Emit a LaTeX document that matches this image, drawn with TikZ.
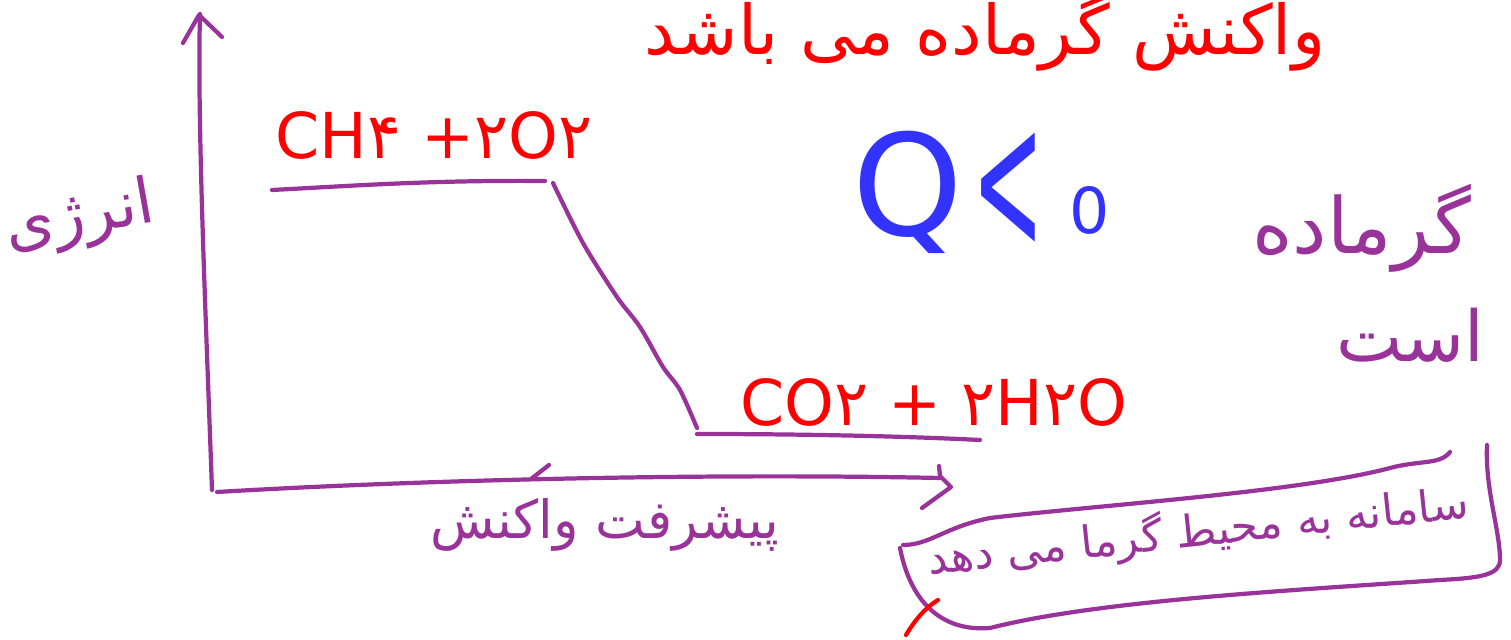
\documentclass[tikz,border=0pt]{standalone}
\usepackage{fontspec}
\newfontfamily\fa[Script=Arabic]{DejaVu Sans}
\newfontfamily\dv{DejaVu Sans}
\TeXXeTstate=1
\definecolor{pen}{RGB}{153,51,153}
\definecolor{redpen}{RGB}{255,0,0}
\definecolor{bluepen}{RGB}{51,51,255}
\tikzset{
  stroke/.style={draw=pen,line width=1.2pt,line cap=round,line join=round},
  redstroke/.style={draw=redpen,line width=1.2pt,line cap=round},
  fatext/.style={text=pen,inner sep=0pt},
  chem/.style={text=redpen,inner sep=0pt,font=\dv\fontsize{18}{22}\selectfont},
  qtext/.style={text=bluepen,inner sep=0pt},
}
\begin{document}
\begin{tikzpicture}[x=0.01cm,y=-0.01cm]
\useasboundingbox (0,0) rectangle (1511,640);
\clip (0,0) rectangle (1511,640);
\fill[white] (0,0) rectangle (1511,640);

% axes
\coordinate (yb) at (212,490);
\coordinate (yt) at (200,14);
\draw[stroke] (yb) .. controls (206,320) and (197,120) .. (yt);
\draw[stroke] (183,43) -- (199,15) -- (222,37);
\coordinate (xl) at (217,492);
\coordinate (xr) at (940,478);
\draw[stroke] (xl) .. controls (420,480) and (700,473) .. (xr);
\draw[stroke] (939,466) -- (940,476) -- (951,487) -- (922,508);
\draw[stroke] (531,479) -- (549,465);

% energy levels
\coordinate (u1) at (272,190);
\coordinate (u2) at (545,181);
\draw[stroke] (u1) .. controls (350,186) and (430,180) .. (u2);
\draw[stroke] plot[smooth] coordinates {(553,183) (583,243) (617,297) (640,327) (663,367) (680,390) (697,428)};
\coordinate (l1) at (697,434);
\coordinate (l2) at (980,440);
\draw[stroke] (l1) .. controls (800,434) and (900,436) .. (l2);

% labels
\node[fatext,font=\fa\fontsize{18}{22}\selectfont,rotate=10] (energy) at (80,218) {\beginR انرژی\endR};
\node[fatext,font=\fa\fontsize{15}{18}\selectfont] (progress) at (605,525) {\beginR پیشرفت واکنش\endR};
\node[fatext,text=redpen,font=\fa\fontsize{19.5}{23}\selectfont] (title) at (985,32) {\beginR واکنش گرماده می باشد\endR};

\node[chem,anchor=west] (react) at (275,135) {CH۴ +۲O۲};
\node[chem,anchor=west] (prod) at (740,402) {CO۲ + ۲H۲O};

\node[qtext,font=\dv\fontsize{40}{44}\selectfont,anchor=west] (q) at (852,192) {Q};
\node[qtext,font=\dv\fontsize{58}{62}\selectfont,xscale=0.42] (lt) at (1008,192) {<};
\node[qtext,font=\dv\fontsize{18}{22}\selectfont] (zero) at (1090,210) {0};

\node[fatext,font=\fa\fontsize{22}{26}\selectfont] (exo) at (1362,228) {\beginR گرماده\endR};
\node[fatext,font=\fa\fontsize{20}{24}\selectfont] (ast) at (1410,335) {\beginR است\endR};

% box
\node[fatext,font=\fa\fontsize{12.5}{15}\selectfont,rotate=6] (sys) at (1198,532) {\beginR سامانه به محیط گرما می دهد\endR};
\draw[stroke] (903,545) .. controls (930,545) and (945,527) .. (990,518)
  .. controls (1100,505) and (1300,492) .. (1390,468)
  .. controls (1420,460) and (1440,465) .. (1450,452);
\draw[stroke] (1487,445) .. controls (1485,490) and (1500,530) .. (1500,560)
  .. controls (1500,575) and (1480,578) .. (1440,580)
  .. controls (1300,590) and (1100,600) .. (990,628)
  .. controls (940,632) and (910,600) .. (900,548);
\draw[redstroke] (906,635) .. controls (915,620) and (925,608) .. (938,600);
\end{tikzpicture}
\end{document}
